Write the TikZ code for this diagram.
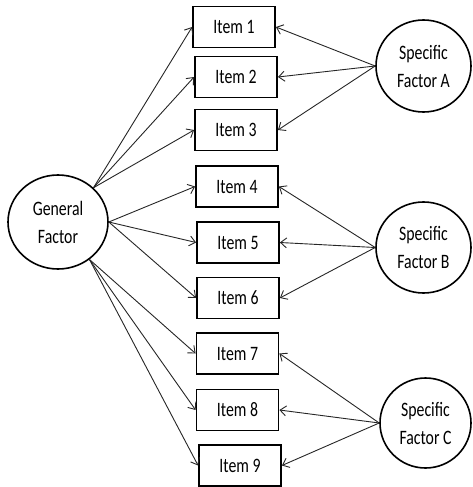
\documentclass[tikz,border=0pt]{standalone}
\usepackage{fontspec}
\setmainfont{Carlito}[FakeStretch=0.77]
\usetikzlibrary{shapes.geometric,arrows.meta}
\tikzset{
  factor/.style={ellipse, draw=black, line width=1.6pt, align=center, inner sep=0pt,
    font=\fontsize{20.5}{28}\selectfont},
  itembox/.style={rectangle, draw=black, line width=1.8pt, minimum width=82pt,
    minimum height=41pt, inner sep=0pt, font=\fontsize{20.5}{24}\selectfont},
  load/.style={draw=black!85, line width=0.9pt,
    -{Straight Barb[length=6pt,width=10pt,line width=0.9pt]}}
}
\begin{document}
\begin{tikzpicture}[x=1pt,y=-1pt]
\useasboundingbox (0,0) rectangle (472,487);

% latent factors
\node[factor, minimum width=100pt, minimum height=94pt] (G) at (58,222) {General\\Factor};
\node[factor, minimum width=95pt, minimum height=92pt] (A) at (423.5,66) {Specific\\Factor A};
\node[factor, minimum width=95pt, minimum height=91pt] (B) at (423.5,247.5) {Specific\\Factor B};
\node[factor, minimum width=91pt, minimum height=90pt] (C) at (425.5,423) {Specific\\Factor C};

% observed items
\node[itembox] (i1) at (234,27)    {Item 1};
\node[itembox] (i2) at (236,77)    {Item 2};
\node[itembox] (i3) at (236,130)   {Item 3};
\node[itembox] (i4) at (237,186.5) {Item 4};
\node[itembox] (i5) at (238,242.5) {Item 5};
\node[itembox] (i6) at (238,298)   {Item 6};
\node[itembox] (i7) at (237.5,353.5) {Item 7};
\node[itembox] (i8) at (237.5,410) {Item 8};
\node[itembox] (i9) at (240,465.5) {Item 9};

% points on the general factor where loadings leave
\coordinate (g1) at (G.44);
\coordinate (g2) at (G.0);
\coordinate (g3) at (G.-50);

% general factor loadings
\foreach \i in {1,2,3} \draw[load] (g1) -- (i\i.west);
\foreach \i in {4,5,6} \draw[load] (g2) -- (i\i.west);
\foreach \i in {7,8,9} \draw[load] (g3) -- (i\i.west);

% specific factor loadings
\foreach \i in {1,2,3} \draw[load] (A.west) -- (i\i.east);
\foreach \i in {4,5,6} \draw[load] (B.west) -- (i\i.east);
\foreach \i in {7,8,9} \draw[load] (C.west) -- (i\i.east);
\end{tikzpicture}
\end{document}
